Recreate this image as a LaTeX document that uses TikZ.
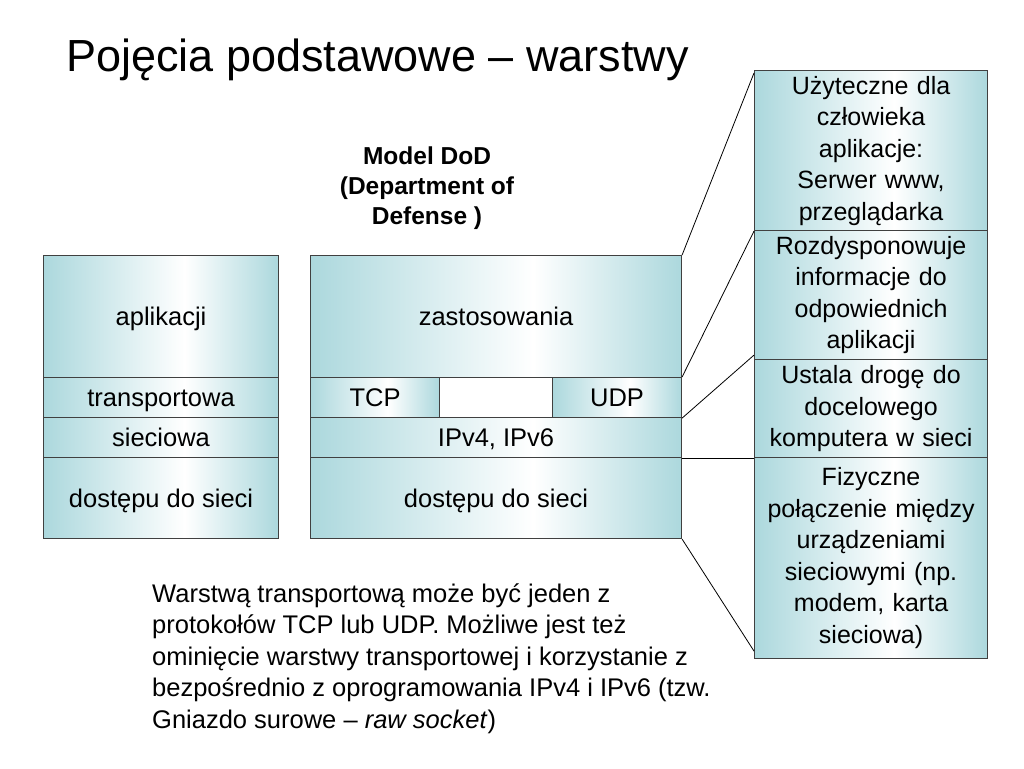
\documentclass[tikz,border=0pt]{standalone}
\usepackage{fontspec}
\setmainfont{Liberation Sans}
\definecolor{tealA}{RGB}{172,216,221}
\definecolor{edgegray}{RGB}{64,64,64}
\pgfdeclarehorizontalshading{tealshade}{100bp}{color(0bp)=(tealA); color(25bp)=(tealA); color(55bp)=(white); color(75bp)=(tealA); color(100bp)=(tealA)}
\begin{document}
\begin{tikzpicture}[x=1pt,y=-1pt,
  shadebox/.style={draw=edgegray, line width=1.1pt, shading=tealshade, inner sep=0pt, anchor=north west},
  layer/.style={shadebox, font=\fontsize{25.5}{31}\selectfont, text height=22pt, text depth=4pt},
  blank/.style={draw=edgegray, line width=1.1pt, fill=white, inner sep=0pt, anchor=north west},
  infobox/.style={shadebox, align=center, font=\fontsize{25}{31.5}\selectfont},
  noteline/.style={anchor=base west, inner sep=0pt, font=\fontsize{25.5}{31.5}\selectfont},
  conn/.style={draw=black, line width=0.8pt}]
\useasboundingbox[fill=white] (0,0) rectangle (1024,768);
% title
\node[anchor=base west, inner sep=0pt, font=\fontsize{45}{50}\selectfont] (title) at (66,71) {Pojęcia podstawowe – warstwy};
% heading
\node[align=center, inner sep=0pt, font=\bfseries\fontsize{24.5}{30}\selectfont] (dod) at (427,188) {Model DoD\\(Department of\\Defense )};
% left stack
\node[layer, minimum width=235pt, minimum height=122pt] (lapp) at (43,255) {aplikacji};
\node[layer, minimum width=235pt, minimum height=40pt] (ltr) at (43,377) {transportowa};
\node[layer, minimum width=235pt, minimum height=40pt] (lnet) at (43,417) {sieciowa};
\node[layer, minimum width=235pt, minimum height=81pt] (lacc) at (43,457) {dostępu do sieci};
% middle stack
\node[layer, minimum width=371pt, minimum height=122pt] (mapp) at (310,255) {zastosowania};
\node[layer, minimum width=129pt, minimum height=40pt] (tcp) at (310,377) {TCP};
\node[blank, minimum width=113pt, minimum height=40pt] (gap) at (439,377) {};
\node[layer, minimum width=129pt, minimum height=40pt] (udp) at (552,377) {UDP};
\node[layer, minimum width=371pt, minimum height=40pt] (ip) at (310,417) {IPv4, IPv6};
\node[layer, minimum width=371pt, minimum height=81pt] (macc) at (310,457) {dostępu do sieci};
% right boxes
\node[infobox, text width=228pt, minimum width=233pt, minimum height=160pt] (r1) at (754,70) {Użyteczne dla\\człowieka\\aplikacje:\\Serwer www,\\przeglądarka};
\node[infobox, text width=228pt, minimum width=233pt, minimum height=129pt] (r2) at (754,230) {Rozdysponowuje\\informacje do\\odpowiednich\\aplikacji};
\node[infobox, text width=228pt, minimum width=233pt, minimum height=98pt] (r3) at (754,359) {Ustala drogę do\\docelowego\\komputera w sieci};
\node[infobox, text width=228pt, minimum width=233pt, minimum height=201pt] (r4) at (754,457) {Fizyczne\\połączenie między\\urządzeniami\\sieciowymi (np.\\modem, karta\\sieciowa)};
% connectors
\draw[conn] (mapp.north east) -- ([yshift=-3pt]r1.north west);
\draw[conn] (udp.north east) -- (r1.south west);
\draw[conn] (udp.south east) -- ([yshift=5pt]r2.south west);
\draw[conn] (ip.south east) -- (r3.south west);
\draw[conn] (macc.south east) -- ([yshift=8pt]r4.south west);
% note
\node[noteline] (note1) at (152,602) {Warstwą transportową może być jeden z};
\node[noteline] (note2) at ([yshift=-31.5pt]note1.base west) {protokołów TCP lub UDP. Możliwe jest też};
\node[noteline] (note3) at ([yshift=-31.5pt]note2.base west) {ominięcie warstwy transportowej i korzystanie z};
\node[noteline] (note4) at ([yshift=-31.5pt]note3.base west) {bezpośrednio z oprogramowania IPv4 i IPv6 (tzw.};
\node[noteline] (note5) at ([yshift=-31.5pt]note4.base west) {Gniazdo surowe – \textit{raw socket})};
\end{tikzpicture}
\end{document}
